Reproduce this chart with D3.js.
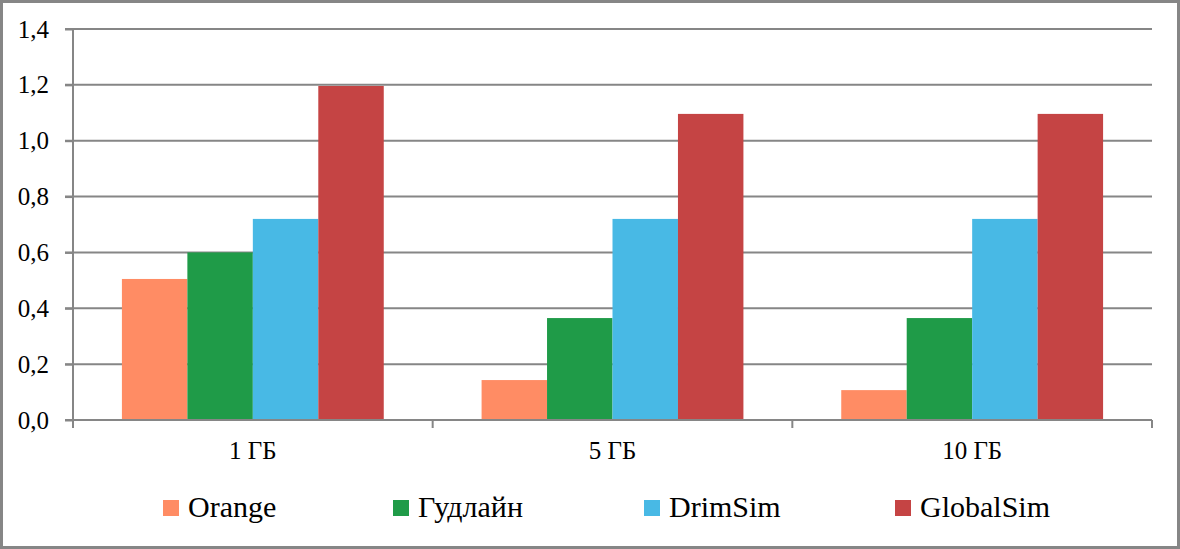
<!DOCTYPE html>
<html><head><meta charset="utf-8">
<script src="https://cdn.jsdelivr.net/npm/d3@7"></script>
<style>html,body{margin:0;padding:0;background:#fff;}svg{display:block;}
svg text{font-family:"Liberation Serif","Times New Roman","DejaVu Serif",serif;}</style>
</head><body>
<script>
const categories = ["1 ГБ", "5 ГБ", "10 ГБ"];
const seriesNames = ["Orange", "Гудлайн", "DrimSim", "GlobalSim"];
const orangeValues = [0.505, 0.143, 0.107];
const gudlainValues = [0.6, 0.365, 0.365];
const drimSimValues = [0.72, 0.72, 0.72];
const globalSimValues = [1.196, 1.096, 1.096];
const yTicks = [0, 0.2, 0.4, 0.6, 0.8, 1.0, 1.2, 1.4];
const colors = ["#FF8C64", "#1F9B48", "#48B9E5", "#C54444"];

(function () {
const seriesValues = [orangeValues, gudlainValues, drimSimValues, globalSimValues];
const W = 1180, H = 549;
const pLeft = 73, pRight = 1152, pTop = 29, pBottom = 420;

const svg = d3.select("body").append("svg").attr("width", W).attr("height", H);
svg.append("rect").attr("x", 1.5).attr("y", 1.5).attr("width", W - 3).attr("height", H - 3)
  .attr("fill", "#fff").attr("stroke", "#868686").attr("stroke-width", 3);

const x0 = d3.scaleBand().domain(categories).range([pLeft, pRight]).paddingInner(0.272).paddingOuter(0.136);
const x1 = d3.scaleBand().domain(seriesNames).range([0, x0.bandwidth()]);
const y = d3.scaleLinear().domain([0, 1.4]).range([pBottom, pTop]);

svg.append("g").selectAll("line").data(yTicks.filter(d => d > 0)).join("line")
  .attr("x1", pLeft - 8).attr("x2", pRight).attr("y1", d => y(d)).attr("y2", d => y(d))
  .attr("stroke", "#868686").attr("stroke-width", 2);

const groups = svg.append("g").selectAll("g").data(categories).join("g")
  .attr("transform", c => `translate(${x0(c)},0)`);
groups.selectAll("rect").data((c, ci) => seriesNames.map((s, si) => ({s, si, v: seriesValues[si][ci]})))
  .join("rect")
  .attr("x", d => x1(d.s)).attr("width", x1.bandwidth())
  .attr("y", d => y(d.v)).attr("height", d => pBottom - y(d.v))
  .attr("fill", d => colors[d.si]);

const yAxis = d3.axisLeft(y).tickValues(yTicks).tickSize(8).tickPadding(16)
  .tickFormat(d => d3.format(".1f")(d).replace(".", ","));
const gy = svg.append("g").attr("transform", `translate(${pLeft},0)`).call(yAxis);
gy.attr("font-family", null).attr("font-size", null);
gy.select(".domain").attr("stroke", "#868686").attr("stroke-width", 2).attr("d", `M0,${pTop}V${pBottom + 8}`);
gy.selectAll(".tick line").attr("stroke", "#868686").attr("stroke-width", 2);
gy.selectAll(".tick text").style("font-size", "25px").attr("fill", "#000");

const gx = svg.append("g").attr("transform", `translate(0,${pBottom})`);
gx.append("line").attr("x1", pLeft - 8).attr("x2", pRight).attr("y1", 0).attr("y2", 0)
  .attr("stroke", "#868686").attr("stroke-width", 2);
const step = x0.step();
const boundaries = d3.range(categories.length + 1).map(i => pLeft + i * step);
gx.selectAll("line.tk").data(boundaries).join("line").attr("class", "tk")
  .attr("x1", d => d).attr("x2", d => d).attr("y1", 0).attr("y2", 8)
  .attr("stroke", "#868686").attr("stroke-width", 2);
gx.selectAll("text").data(categories).join("text")
  .attr("x", c => x0(c) + x0.bandwidth() / 2).attr("y", 39)
  .attr("text-anchor", "middle").style("font-size", "25px").text(c => c);

const legendX = [163, 393, 644, 895];
const lg = svg.append("g").selectAll("g").data(seriesNames).join("g")
  .attr("transform", (d, i) => `translate(${legendX[i]},500)`);
lg.append("rect").attr("width", 16).attr("height", 16).attr("fill", (d, i) => colors[i]);
lg.append("text").attr("x", 25).attr("y", 17).style("font-size", "30px").text(d => d);
})();
</script>
</body></html>
